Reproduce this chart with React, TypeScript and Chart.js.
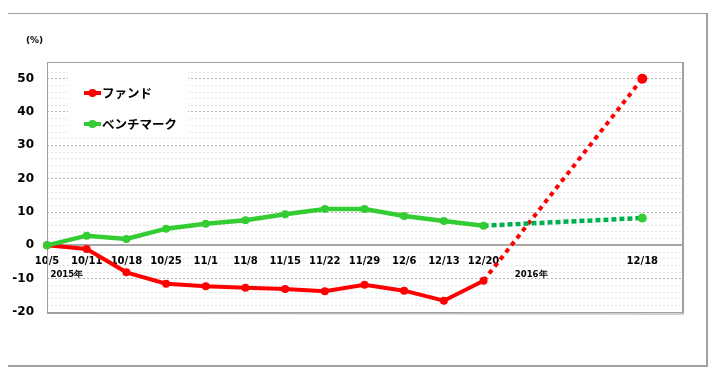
import React, { useEffect, useRef } from "react";
import { Chart, registerables } from "chart.js";

Chart.register(...registerables);

const labels = ["10/5", "10/11", "10/18", "10/25", "11/1", "11/8", "11/15", "11/22", "11/29", "12/6", "12/13", "12/20", "", "", "", "12/18", ""];
const fundValues = [0, -1.1, -8.1, -11.5, -12.3, -12.7, -13.1, -13.8, -11.8, -13.6, -16.6, -10.6, null, null, null, 50, null];
const benchValues = [0, 2.9, 1.9, 5.0, 6.5, 7.5, 9.3, 10.9, 10.9, 8.8, 7.3, 5.9, null, null, null, 8.2, null];
const seriesNames = ["ファンド", "ベンチマーク"];
const yearLabels = ["2015年", "2016年"];
const yearPositions = [0.5, 12.2];
const lastActualIndex = 11;

const RED = "#ff0000";
const GREEN = "#33cc33";
const GREEN_DARK = "#00b050";
const FRAME = "#a0a0a0";

const decorPlugin = {
  id: "decor",
  beforeDatasetsDraw(chart: any) {
    const { ctx, chartArea } = chart;
    ctx.save();
    // plot frame
    ctx.strokeStyle = FRAME;
    ctx.lineWidth = 1;
    ctx.strokeRect(chartArea.left + 0.5, chartArea.top + 0.5, chartArea.right - chartArea.left, chartArea.bottom - chartArea.top);
    ctx.beginPath();
    ctx.moveTo(chartArea.right + 1.5, chartArea.top);
    ctx.lineTo(chartArea.right + 1.5, chartArea.bottom + 2);
    ctx.lineTo(chartArea.left, chartArea.bottom + 1.5);
    ctx.stroke();
    // legend box
    ctx.fillStyle = "#ffffff";
    ctx.fillRect(68, 68, 120, 70);
    const items = [
      { y: 93, color: RED },
      { y: 124, color: GREEN },
    ];
    chart.data.datasets.forEach((ds: any, i: number) => {
      const it = items[i];
      ctx.strokeStyle = it.color;
      ctx.lineWidth = 4;
      ctx.beginPath();
      ctx.moveTo(84, it.y);
      ctx.lineTo(101, it.y);
      ctx.stroke();
      ctx.fillStyle = it.color;
      ctx.beginPath();
      ctx.arc(92.5, it.y, 4, 0, Math.PI * 2);
      ctx.fill();
      ctx.fillStyle = "#000000";
      ctx.font = "bold 12.5px 'Noto Sans CJK JP'";
      ctx.textAlign = "left";
      ctx.textBaseline = "middle";
      ctx.fillText(ds.label, 102, it.y + 0.5);
    });
    ctx.restore();
  },
  afterDraw(chart: any) {
    const { ctx } = chart;
    ctx.save();
    // outer frame
    ctx.strokeStyle = FRAME;
    ctx.lineWidth = 1;
    ctx.beginPath();
    ctx.moveTo(3.5, 366);
    ctx.lineTo(3.5, 13.5);
    ctx.lineTo(706, 13.5);
    ctx.stroke();
    ctx.lineWidth = 2;
    ctx.beginPath();
    ctx.moveTo(707, 13);
    ctx.lineTo(707, 366);
    ctx.lineTo(3, 366);
    ctx.stroke();
    // unit label
    ctx.fillStyle = "#000000";
    ctx.font = "bold 9px 'DejaVu Sans'";
    ctx.textAlign = "center";
    ctx.textBaseline = "middle";
    ctx.fillText("(%)", 34.5, 41);
    // year labels
    const xs = chart.scales.x;
    ctx.font = "bold 8.5px 'DejaVu Sans'";
    yearLabels.forEach((t, i) => {
      ctx.fillText(t, xs.getPixelForValue(yearPositions[i]), 275);
    });
    ctx.restore();
  },
};

export default function App() {
  const ref = useRef<HTMLCanvasElement | null>(null);
  useEffect(() => {
    if (!ref.current) return;
    const dashFrom = (ctx: any, dash: number[]) => (ctx.p0DataIndex >= lastActualIndex ? dash : undefined);
    const chart = new Chart(ref.current, {
      type: "line",
      data: {
        labels,
        datasets: [
          {
            label: seriesNames[0],
            data: fundValues,
            order: 1,
            borderColor: RED,
            backgroundColor: RED,
            borderWidth: 4,
            pointRadius: fundValues.map((_, i) => (i === 15 ? 5 : 4)),
            pointHoverRadius: 4,
            pointBorderWidth: 0,
            pointBackgroundColor: RED,
            tension: 0,
            spanGaps: true,
            segment: {
              borderDash: (c: any) => dashFrom(c, [4.5, 4.5]),
            },
          } as any,
          {
            label: seriesNames[1],
            data: benchValues,
            order: 0,
            borderColor: GREEN,
            backgroundColor: GREEN,
            borderWidth: 4.5,
            pointRadius: benchValues.map((_, i) => (i === 15 ? 4.5 : 4)),
            pointHoverRadius: 4,
            pointBorderWidth: 0,
            pointBackgroundColor: GREEN,
            tension: 0,
            spanGaps: true,
            segment: {
              borderDash: (c: any) => dashFrom(c, [5, 3]),
              borderColor: (c: any) => (c.p0DataIndex >= lastActualIndex ? GREEN_DARK : undefined),
            },
          } as any,
        ],
      },
      options: {
        responsive: false,
        animation: false,
        devicePixelRatio: 1,
        layout: { padding: { left: 0, top: 62, right: 38, bottom: 67 } },
        plugins: {
          legend: { display: false },
          tooltip: { enabled: false },
        },
        scales: {
          x: {
            type: "category",
            position: { y: 0 } as any,
            offset: false,
            grid: { display: false, drawTicks: false },
            border: { display: true, color: "#a6a6a6", width: 2 },
            ticks: {
              autoSkip: false,
              maxRotation: 0,
              minRotation: 0,
              padding: 10,
              color: "#000000",
              font: { family: "'DejaVu Sans'", size: 10, weight: "bold" },
            },
          },
          y: {
            min: -20,
            max: 55,
            afterFit: (s: any) => {
              s.width = 47;
            },
            grid: {
              drawTicks: false,
              color: (c: any) => {
                const v = c.tick ? c.tick.value : 0;
                if (v === 0) return "rgba(0,0,0,0)";
                return v % 10 === 0 ? "#b4b4b4" : "#e4e4e4";
              },
              lineWidth: 1,
            },
            border: { display: false, dash: [2, 2] },
            ticks: {
              stepSize: 2,
              autoSkip: false,
              padding: 13,
              color: "#000000",
              font: { family: "'DejaVu Sans'", size: 12, weight: "bold" },
              callback: (v: any) => (Number(v) % 10 === 0 ? String(v) : ""),
            },
          },
        },
      },
      plugins: [decorPlugin],
    });
    return () => chart.destroy();
  }, []);
  return (
    <div style={{ margin: -8, width: 720, height: 379, overflow: "hidden", background: "#fff" }}>
      <canvas ref={ref} width={720} height={379} style={{ display: "block" }} />
    </div>
  );
}
